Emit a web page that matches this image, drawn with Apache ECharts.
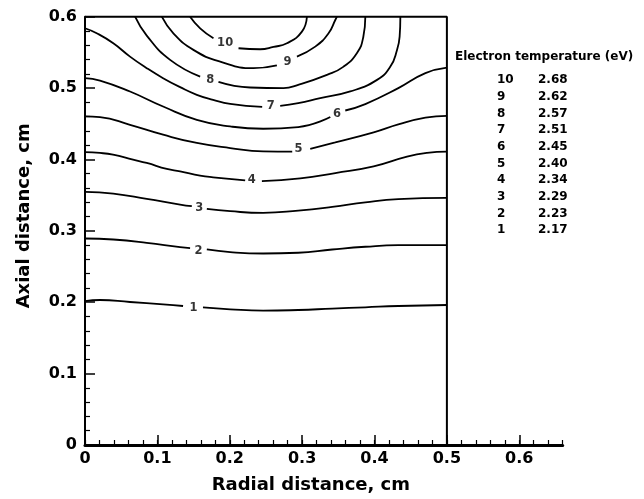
<!DOCTYPE html>
<html><head><meta charset="utf-8">
<script src="https://cdn.jsdelivr.net/npm/echarts@6/dist/echarts.min.js"></script>
<style>html,body{margin:0;padding:0;background:#fff}#c{width:644px;height:499px}</style>
</head><body><div id="c"></div><script>
// ---- data ----
const GAP = '-';
const c1 = [[0,0.2017],[0.0207,0.2031],[0.0622,0.2003],[0.1079,0.1971],[0.1355,0.1947],[0.1498,GAP],[0.163,0.1929],[0.2006,0.1901],[0.2462,0.1882],[0.2946,0.1891],[0.3416,0.1911],[0.3873,0.1929],[0.4329,0.1947],[0.5,0.1961]];
const c2 = [[0,0.2893],[0.0391,0.2879],[0.0853,0.2833],[0.1314,0.2771],[0.1452,0.2758],[0.1567,GAP],[0.1683,0.2739],[0.2006,0.2702],[0.2462,0.2683],[0.2946,0.2693],[0.3416,0.2739],[0.3873,0.2777],[0.4329,0.2799],[0.5,0.2801]];
const c3 = [[0,0.3546],[0.0391,0.3522],[0.0853,0.3448],[0.1314,0.3368],[0.1476,0.3345],[0.1577,GAP],[0.1683,0.3308],[0.2006,0.3275],[0.2462,0.3252],[0.2946,0.3284],[0.3416,0.3336],[0.3873,0.3400],[0.4329,0.3445],[0.5,0.3462]];
const c4 = [[0,0.4102],[0.0207,0.4091],[0.0387,0.4067],[0.0664,0.3997],[0.0853,0.3951],[0.113,0.3867],[0.1314,0.3834],[0.159,0.3774],[0.177,0.375],[0.2213,0.3708],[0.2305,GAP],[0.2444,0.3697],[0.2974,0.3736],[0.3458,0.3810],[0.3988,0.3904],[0.4449,0.4040],[0.4725,0.4092],[0.5,0.4109]];
const c5 = [[0,0.4605],[0.0207,0.4594],[0.0622,0.4486],[0.1079,0.4347],[0.1545,0.4231],[0.2006,0.4160],[0.2462,0.4113],[0.2863,0.4109],[0.295,GAP],[0.3112,0.4150],[0.3458,0.4239],[0.3988,0.4379],[0.4329,0.4490],[0.4703,0.4585],[0.5,0.4612]];
const c6 = [[0,0.5139],[0.0207,0.5106],[0.0622,0.4952],[0.1079,0.4742],[0.1545,0.4556],[0.2006,0.4463],[0.2462,0.443],[0.2946,0.4454],[0.3389,0.4594],[0.3481,GAP],[0.3596,0.4686],[0.3873,0.4776],[0.4329,0.4999],[0.4703,0.5209],[0.5,0.5287]];
const c7 = [[0,0.5838],[0.0162,0.5768],[0.0391,0.5628],[0.0622,0.5441],[0.0853,0.5279],[0.1079,0.5139],[0.1314,0.5013],[0.1545,0.4906],[0.177,0.4836],[0.2006,0.4780],[0.2448,0.4738],[0.2568,GAP],[0.2697,0.4752],[0.2946,0.4790],[0.3250,0.4860],[0.3665,0.4953],[0.4035,0.5115],[0.4219,0.5301],[0.4311,0.5535],[0.4347,0.5720],[0.4357,0.6]];
const c8 = [[0.0692,0.6],[0.0853,0.5735],[0.1176,0.5395],[0.1591,0.5161],[0.1729,GAP],[0.1844,0.5087],[0.2282,0.5008],[0.2743,0.4999],[0.2946,0.5045],[0.3343,0.5185],[0.3568,0.5297],[0.3758,0.5493],[0.3845,0.5716],[0.3873,0.6]];
const c9 = [[0.1061,0.6],[0.1221,0.5768],[0.1498,0.5535],[0.1867,0.5371],[0.2328,0.5279],[0.2651,0.5318],[0.2798,GAP],[0.2928,0.5441],[0.3181,0.5581],[0.3365,0.5768],[0.3458,0.5954],[0.3481,0.6]];
const c10 = [[0.1452,0.6],[0.1591,0.5837],[0.1775,0.5698],[0.1936,GAP],[0.2121,0.5558],[0.2420,0.5544],[0.2604,0.5577],[0.2790,0.5628],[0.2997,0.5791],[0.3066,0.6]];
const contours = [c1,c2,c3,c4,c5,c6,c7,c8,c9,c10];
const contourLabels = [[0.1498,0.1924,'1'],[0.1567,0.2716,'2'],[0.1577,0.3322,'3'],[0.2305,0.3710,'4'],[0.295,0.4150,'5'],[0.3481,0.464,'6'],[0.2568,0.4742,'7'],[0.1729,0.5115,'8'],[0.2798,0.5371,'9'],[0.1936,0.5628,'10']];
const frame = [[0,0.6],[0.5,0.6],[0.5,0]];
const xTickLabels = [0,0.1,0.2,0.3,0.4,0.5,0.6];
const yTickLabels = [0,0.1,0.2,0.3,0.4,0.5,0.6];
const legendTitle = 'Electron temperature (eV)';
const legendLevels = ['10','9','8','7','6','5','4','3','2','1'];
const legendValues = ['2.68','2.62','2.57','2.51','2.45','2.40','2.34','2.29','2.23','2.17'];

const xMinor = [];
for (let i = 0; i <= 33; i++) xMinor.push(+(i * 0.02).toFixed(2));

const FONT = 'DejaVu Sans';
const fmt = v => (v === 0 ? '0' : (+v).toFixed(1));

const series = contours.map(d => ({
  type: 'line', data: d, smooth: 0.5, symbol: 'none', silent: true,
  lineStyle: { color: '#000', width: 1.8 }, connectNulls: false
}));
series.push({
  type: 'line', data: frame, symbol: 'none', silent: true, clip: false,
  lineStyle: { color: '#000', width: 2 }
});
series.push({
  type: 'scatter', data: contourLabels, symbolSize: 0, silent: true,
  label: { show: true, position: 'inside', formatter: p => p.value[2],
    color: '#000', textBorderWidth: 0, fontFamily: FONT, fontWeight: 'bold', fontSize: 11.5 }
});

const graphic = [{
  type: 'text', left: 455, top: 51,
  style: { text: legendTitle, fill: '#000', font: 'bold 12px "DejaVu Sans"' }
}];
legendLevels.forEach((lv, i) => {
  graphic.push({ type: 'text', left: 497, top: 74 + i * 16.7,
    style: { text: lv, fill: '#000', font: 'bold 12px "DejaVu Sans"' } });
  graphic.push({ type: 'text', left: 538, top: 74 + i * 16.7,
    style: { text: legendValues[i], fill: '#000', font: 'bold 12px "DejaVu Sans"' } });
});

const chart = echarts.init(document.getElementById('c'));
chart.setOption({
  animation: false,
  backgroundColor: '#fff',
  grid: { left: 85, right: 81.3, top: 16.7, bottom: 53, containLabel: false },
  xAxis: [{
    type: 'value', min: 0, max: 0.66, position: 'bottom',
    name: 'Radial distance, cm', nameLocation: 'middle', nameGap: 31,
    nameTextStyle: { color: '#000', fontFamily: FONT, fontWeight: 'bold', fontSize: 18, padding: [0, 26, 0, 0] },
    axisLine: { show: true, lineStyle: { color: '#000', width: 3 } },
    axisTick: { show: true, inside: true, length: 10, customValues: xTickLabels, lineStyle: { color: '#000', width: 1.5 } },
    axisLabel: { show: true, customValues: xTickLabels, formatter: fmt, color: '#000', fontFamily: FONT, fontWeight: 'bold', fontSize: 16, margin: 6 },
    splitLine: { show: false }
  }, {
    type: 'value', min: 0, max: 0.66, position: 'bottom', offset: 0,
    axisLine: { show: false },
    axisTick: { show: true, inside: true, length: 5, customValues: xMinor, lineStyle: { color: '#000', width: 1.2 } },
    axisLabel: { show: false },
    splitLine: { show: false }
  }],
  yAxis: [{
    type: 'value', min: 0, max: 0.6, interval: 0.1,
    name: 'Axial distance, cm', nameLocation: 'middle', nameGap: 52,
    nameTextStyle: { color: '#000', fontFamily: FONT, fontWeight: 'bold', fontSize: 18, padding: [0, 0, 0, 30] },
    axisLine: { show: true, lineStyle: { color: '#000', width: 2 } },
    axisTick: { show: true, inside: true, length: 10, lineStyle: { color: '#000', width: 1.5 } },
    minorTick: { show: true, splitNumber: 5, length: 5, lineStyle: { color: '#000', width: 1.2 } },
    axisLabel: { formatter: fmt, color: '#000', fontFamily: FONT, fontWeight: 'bold', fontSize: 16, margin: 8 },
    splitLine: { show: false }, minorSplitLine: { show: false }
  }],
  series: series,
  graphic: graphic
});
</script></body></html>
